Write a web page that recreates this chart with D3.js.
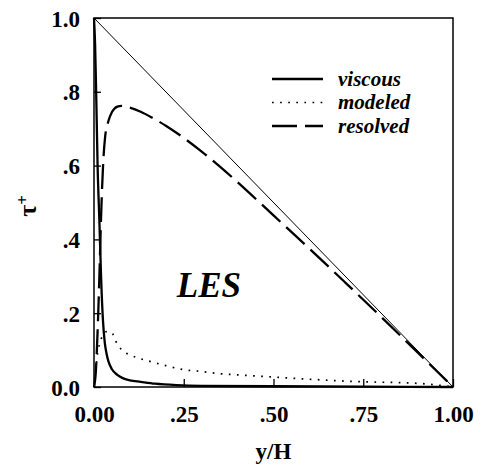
<!DOCTYPE html>
<meta charset="utf-8">
<div id="stress"></div>
<script src="https://d3js.org/d3.v7.min.js"></script>
<style type="text/css">
body { margin: 0; background: #fff; }
text { font-family: "Liberation Serif", "Times New Roman", serif; font-weight: bold; fill: #000; }
.frame { fill: none; stroke: #000; stroke-width: 1.5; }
.total { fill: none; stroke: #000; stroke-width: 1; }
.viscous { fill: none; stroke: #000; stroke-width: 2.3; }
.modeled { fill: none; stroke: #000; stroke-width: 1.7; stroke-dasharray: 1.7,6.4; }
.resolved { fill: none; stroke: #000; stroke-width: 2.3; stroke-dasharray: 25,8; }
</style>
<script>

// wall-normal distance y/H and stress components
var totalY = [0, 1];
var totalTau = [1, 0];

var viscousY = [0, 0.003, 0.006, 0.01, 0.015, 0.02, 0.025, 0.03, 0.035, 0.04, 0.05, 0.065, 0.08, 0.1, 0.13, 0.17, 0.23, 0.3, 0.5, 0.75, 1.0];
var viscousTau = [1.0, 0.93, 0.8, 0.6, 0.45, 0.29, 0.18, 0.12, 0.09, 0.07, 0.048, 0.033, 0.024, 0.018, 0.014, 0.009, 0.005, 0.003, 0.002, 0.001, 0];

var modeledY = [0, 0.01, 0.02, 0.035, 0.05, 0.06, 0.075, 0.1, 0.125, 0.15, 0.2, 0.25, 0.3, 0.35, 0.4, 0.5, 0.6, 0.7, 0.8, 0.9, 0.95, 1.0];
var modeledTau = [0, 0.09, 0.13, 0.15, 0.147, 0.125, 0.103, 0.087, 0.078, 0.071, 0.058, 0.047, 0.042, 0.036, 0.033, 0.027, 0.021, 0.016, 0.013, 0.01, 0.006, 0];

var resolvedY = [0, 0.005, 0.01, 0.015, 0.02, 0.026, 0.031, 0.04, 0.05, 0.065, 0.077, 0.1, 0.13, 0.16, 0.2, 0.25, 0.3, 0.35, 0.4, 0.5, 0.6, 0.7, 0.8, 0.9, 1.0];
var resolvedTau = [0, 0.04, 0.15, 0.3, 0.47, 0.615, 0.678, 0.72, 0.745, 0.76, 0.762, 0.757, 0.746, 0.731, 0.708, 0.675, 0.638, 0.598, 0.555, 0.465, 0.375, 0.283, 0.19, 0.095, 0];

var xTicks = [0, 0.25, 0.5, 0.75, 1];
var xTickLabels = ["0.00", ".25", ".50", ".75", "1.00"];
var yTicks = [0, 0.2, 0.4, 0.6, 0.8, 1];
var yTickLabels = ["0.0", ".2", ".4", ".6", ".8", "1.0"];

var legendNames = ["viscous", "modeled", "resolved"];

var margin = {top: 18, right: 27, bottom: 81, left: 94};
var width = 480 - margin.left - margin.right;
var height = 468 - margin.top - margin.bottom;

var svg = d3.select("#stress").append("svg")
    .attr("width", 480)
    .attr("height", 468);
var graph = svg.append("g")
    .attr("transform", "translate(" + margin.left + "," + margin.top + ")");

var xScale = d3.scaleLinear().domain([0, 1]).range([0, width]);
var yScale = d3.scaleLinear().domain([0, 1]).range([height, 0]);

function zip(xs, ys) {
  return xs.map(function(x, i) { return {x: x, y: ys[i]}; });
}

var line = d3.line()
    .x(function(d) { return xScale(d.x); })
    .y(function(d) { return yScale(d.y); })
    .curve(d3.curveMonotoneX);

// axes: ticks point inward, labels drawn separately
var xAxis = graph.append("g")
    .attr("transform", "translate(0," + height + ")")
    .call(d3.axisBottom(xScale).tickValues(xTicks).tickSizeInner(-8).tickSizeOuter(0)
      .tickFormat(function(d, i) { return xTickLabels[i]; }));
var yAxis = graph.append("g")
    .call(d3.axisLeft(yScale).tickValues(yTicks).tickSizeInner(-7).tickSizeOuter(0)
      .tickFormat(function(d, i) { return yTickLabels[i]; }));
[xAxis, yAxis].forEach(function(ax) {
  ax.select(".domain").remove();
  ax.selectAll("line").attr("stroke", "#000").attr("stroke-width", 1.3);
  ax.selectAll("text").attr("font-family", null).attr("font-size", 23);
});
xAxis.selectAll("text").attr("dy", null).attr("y", 35);
yAxis.selectAll("text").attr("x", -14).attr("dy", "0.35em");

graph.append("rect")
    .attr("class", "frame")
    .attr("width", width)
    .attr("height", height);

graph.append("path").datum(zip(totalY, totalTau)).attr("class", "total").attr("d", line);
graph.append("path").datum(zip(viscousY, viscousTau)).attr("class", "viscous").attr("d", line);
graph.append("path").datum(zip(modeledY, modeledTau)).attr("class", "modeled").attr("d", line);
graph.append("path").datum(zip(resolvedY, resolvedTau)).attr("class", "resolved").attr("d", line);

// legend
var legend = graph.selectAll(".legend")
    .data(legendNames)
  .enter().append("g")
    .attr("class", "legend")
    .attr("transform", function(d, i) { return "translate(178," + (61 + i * 23.5) + ")"; });
legend.append("line")
    .attr("class", function(d) { return d; })
    .attr("x1", 0).attr("x2", 51)
    .attr("y1", 0).attr("y2", 0)
    .style("stroke-dasharray", function(d) { return d == "resolved" ? "25,8" : null; });
legend.append("text")
    .attr("x", 66)
    .attr("dy", "0.32em")
    .attr("font-size", 21)
    .attr("font-style", "italic")
    .text(function(d) { return d; });

graph.append("text")
    .attr("x", xScale(0.32))
    .attr("y", yScale(0.245))
    .attr("text-anchor", "middle")
    .attr("font-size", 35)
    .attr("font-style", "italic")
    .text("LES");

svg.append("text")
    .attr("x", margin.left + width / 2)
    .attr("y", 459)
    .attr("text-anchor", "middle")
    .attr("font-size", 23)
    .text("y/H");

var yLabel = svg.append("text")
    .attr("transform", "translate(36,206) rotate(-90)")
    .attr("text-anchor", "middle")
    .attr("font-size", 26);
yLabel.append("tspan").text("τ");
yLabel.append("tspan").attr("dy", "-0.45em").attr("font-size", 17).text("+");

</script>
